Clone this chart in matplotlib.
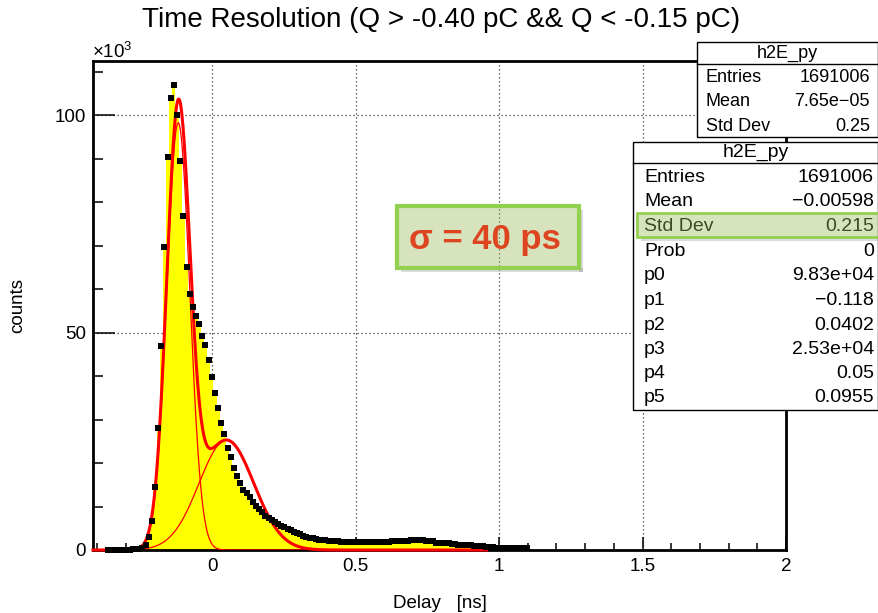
import numpy as np
import matplotlib.pyplot as plt
from matplotlib.patches import Rectangle
from matplotlib.ticker import MultipleLocator, FuncFormatter

plt.rcParams['font.family'] = ['Liberation Sans', 'DejaVu Sans']
plt.rcParams['mathtext.fontset'] = 'custom'
plt.rcParams['mathtext.rm'] = 'Liberation Sans'

# histogram binning [ns] and bin contents [x10^3 counts]
bin_width = 0.011
first_bin = -0.364
counts_k = [
    0.1, 0.1, 0.1, 0.1, 0.1, 0.1, 0.1, 0.1, 0.15, 0.2, 0.3, 0.5,
    1.15, 2.9, 6.7, 14.6, 28.1, 46.9, 69.6, 90.3, 104.0, 106.9,
    100.0, 89.5, 76.8, 65.1, 59.0, 55.8, 53.9, 52.1, 49.3, 47.2,
    43.6, 39.7, 36.2, 32.6, 29.2, 26.6, 23.4, 21.4, 18.8, 17.0,
    15.5, 13.9, 13.0, 12.1, 11.1, 10.2, 9.4, 8.7, 7.9, 7.4,
    6.9, 6.4, 6.0, 5.6, 5.3, 4.9, 4.6, 4.2, 3.9, 3.6,
    3.3, 3.0, 2.8, 2.65, 2.5, 2.4, 2.3, 2.2, 2.15, 2.1,
    2.05, 2.0, 1.95, 1.9, 1.9, 1.85, 1.85, 1.85, 1.8, 1.8,
    1.85, 1.8, 1.85, 1.85, 1.9, 1.9, 1.95, 1.95, 2.0, 2.0,
    2.05, 2.05, 2.1, 2.15, 2.2, 2.2, 2.25, 2.2, 2.2, 2.15,
    2.1, 2.0, 1.6, 1.55, 1.55, 1.5, 1.5, 1.45, 1.3, 1.15,
    1.1, 1.1, 1.05, 1.05, 1.0, 1.0, 0.95, 0.9, 0.8, 0.6,
    0.6, 0.55, 0.55, 0.55, 0.5, 0.5, 0.5, 0.45, 0.45, 0.4,
    0.4, 0.35,
]

# double gaussian fit parameters (from the stats box) and fit range [ns]
fit_pars = [9.83e4, -0.118, 0.0402, 2.53e4, 0.05, 0.0955]
fit_lo, fit_hi = -0.415, 0.957

stats_raw = [("Entries", "1691006"), ("Mean", "7.65e\u221205"), ("Std Dev", "0.25")]
stats_fit = [("Entries", "1691006"), ("Mean", "\u22120.00598"), ("Std Dev", "0.215"),
             ("Prob", "0"), ("p0", "9.83e+04"), ("p1", "\u22120.118"),
             ("p2", "0.0402"), ("p3", "2.53e+04"), ("p4", "0.05"), ("p5", "0.0955")]

W, H = 879, 613


def fx(px):
    return px / W


def fy(py):
    return 1 - py / H


def gaus(x, a, mu, s):
    return a * np.exp(-0.5 * ((x - mu) / s) ** 2)


counts = np.array(counts_k)
centers = first_bin + bin_width * np.arange(len(counts))
edges = np.append(centers - bin_width / 2, centers[-1] + bin_width / 2)

fig = plt.figure(figsize=(W / 100, H / 100), dpi=100)
ax = fig.add_axes([fx(93), fy(550), fx(786) - fx(93), fy(61) - fy(550)])

# grid (ROOT style dotted)
for gx in [0, 0.5, 1.0, 1.5]:
    ax.axvline(gx, color='#333333', lw=0.9, ls=(0, (1, 2.2)), zorder=1)
for gy in [50, 100]:
    ax.axhline(gy, color='#333333', lw=0.9, ls=(0, (1, 2.2)), zorder=1)

ax.stairs(counts, edges, fill=True, color='#ffff00', lw=0, zorder=2)

xf = np.linspace(fit_lo, fit_hi, 600)
g1 = gaus(xf, *fit_pars[:3]) / 1000
g2 = gaus(xf, *fit_pars[3:]) / 1000
ax.plot(xf, g1, color='red', lw=0.9, zorder=3)
ax.plot(xf, g2, color='red', lw=0.9, zorder=3)
ax.plot(xf, g1 + g2, color='red', lw=2.2, zorder=3, clip_on=False)

ax.plot(centers, counts, 's', color='black', ms=4.0, mew=0, zorder=4, clip_on=False)

ax.set_xlim(-0.415, 2.0)
ax.set_ylim(0, 112.5)
ax.xaxis.set_major_locator(MultipleLocator(0.5))
ax.xaxis.set_minor_locator(MultipleLocator(0.1))
ax.yaxis.set_major_locator(MultipleLocator(50))
ax.yaxis.set_minor_locator(MultipleLocator(10))
ax.xaxis.set_major_formatter(FuncFormatter(lambda v, p: '%g' % v))
ax.yaxis.set_major_formatter(FuncFormatter(lambda v, p: '%g' % v))
ax.tick_params(axis='x', which='major', direction='in', length=9.4, width=1.1,
               labelsize=13.5, pad=6, top=False)
ax.tick_params(axis='x', which='minor', direction='in', length=4.7, width=1.1, top=False)
ax.tick_params(axis='y', which='major', direction='in', length=15.8, width=1.1,
               labelsize=13.5, pad=5, right=False)
ax.tick_params(axis='y', which='minor', direction='in', length=7.2, width=1.1, right=False)
for sp in ax.spines.values():
    sp.set_linewidth(2.0)

ax.set_xlabel('Delay   [ns]', fontsize=13.5, labelpad=14)
fig.text(fx(18), fy(306), 'counts', fontsize=13.5, rotation=90, ha='center', va='center')
fig.text(fx(92), fy(58), r'$\mathregular{\times10^{3}}$', fontsize=13.5,
         ha='left', va='baseline')

fig.text(fx(441), fy(20), 'Time Resolution (Q > -0.40 pC && Q < -0.15 pC)',
         fontsize=20, ha='center', va='center')


def stats_box(x0, x1, y0, y1, ydiv, rows, row_y, lab_x, val_x, size):
    fig.add_artist(Rectangle((fx(x0), fy(y1)), fx(x1) - fx(x0), fy(y0) - fy(y1),
                             transform=fig.transFigure, fc='white', ec='black',
                             lw=1.0, zorder=5))
    fig.add_artist(plt.Line2D([fx(x0), fx(x1)], [fy(ydiv), fy(ydiv)],
                              transform=fig.transFigure, color='black', lw=1.0, zorder=5))
    fig.text(fx((x0 + x1) / 2), fy((y0 + ydiv) / 2), 'h2E_py', fontsize=size,
             ha='center', va='center', zorder=6)
    for (lab, val), yy in zip(rows, row_y):
        fig.text(fx(lab_x), fy(yy), lab, fontsize=size, ha='left', va='center', zorder=6)
        fig.text(fx(val_x), fy(yy), val, fontsize=size, ha='right', va='center', zorder=6)


stats_box(697, 878, 42, 137, 64, stats_raw, [77.7, 101.7, 126.7], 706, 870, 13)
stats_box(633, 878, 142, 410, 163, stats_fit,
          [177, 202, 226.7, 251.7, 276, 300.7, 325, 349.3, 373.3, 397.7], 644, 874, 14)


def green_box(x0, x1, y0, y1, lw, z):
    shade = (0.3, 0.3, 0.3, 0.2)
    # soft drop shadow along the right and bottom edges
    fig.add_artist(Rectangle((fx(x1), fy(y1 + 4)), fx(x1 + 4) - fx(x1), fy(y0 + 4) - fy(y1 + 4),
                             transform=fig.transFigure, fc=shade, ec='none', zorder=z))
    fig.add_artist(Rectangle((fx(x0 + 4), fy(y1 + 4)), fx(x1) - fx(x0), fy(y1) - fy(y1 + 4),
                             transform=fig.transFigure, fc=shade, ec='none', zorder=z))
    fig.add_artist(Rectangle((fx(x0), fy(y1)), fx(x1) - fx(x0), fy(y0) - fy(y1),
                             transform=fig.transFigure, fc=(0.61, 0.73, 0.35, 0.4),
                             ec='#92d050', lw=lw, zorder=z + 0.1))


green_box(637, 885, 213, 237, 2.0, 6.5)
green_box(397, 579, 206, 268, 3.0, 7)
fig.text(fx(485), fy(240), '\u03c3 = 40 ps', fontsize=25, fontweight='bold',
         color='#dd4420', ha='center', va='center', zorder=8)

fig.savefig('out.png', dpi=100)
